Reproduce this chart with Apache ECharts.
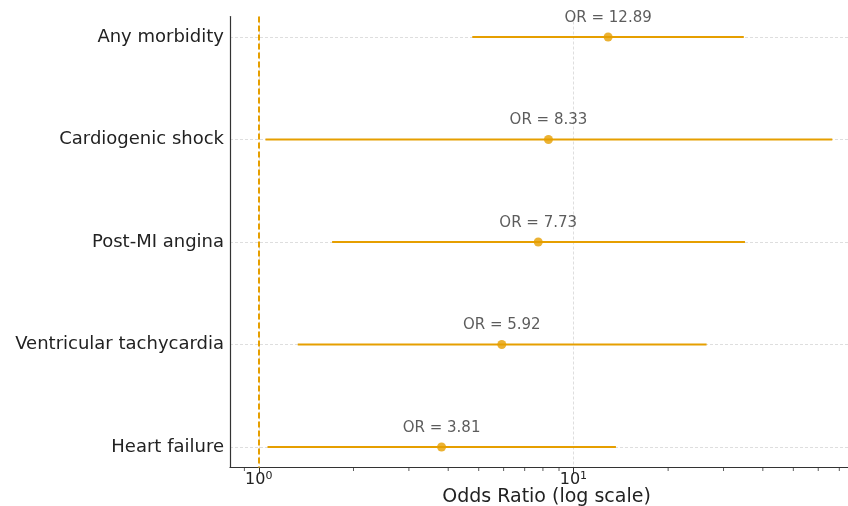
<!DOCTYPE html>
<html>
<head>
<meta charset="utf-8">
<script src="https://cdn.jsdelivr.net/npm/echarts@6/dist/echarts.min.js"></script>
<style>
  html, body { margin: 0; padding: 0; background: #fff; }
  #chart { width: 848px; height: 506px; }
</style>
</head>
<body>
<div id="chart"></div>
<script>
  // outcomes, top to bottom
  var categories = ['Any morbidity', 'Cardiogenic shock', 'Post-MI angina', 'Ventricular tachycardia', 'Heart failure'];
  var oddsRatios = [12.89, 8.33, 7.73, 5.92, 3.81];
  var ciLower = [4.77, 1.05, 1.71, 1.33, 1.066];
  var ciUpper = [34.8, 66.5, 35.1, 26.5, 13.65];
  // minor tick positions of the log axis
  var minorTicks = [0.9, 2, 3, 4, 5, 6, 7, 8, 9, 20, 30, 40, 50, 60, 70];

  var orange = '#E69F00';
  var font = 'DejaVu Sans';

  var chart = echarts.init(document.getElementById('chart'));

  var ciData = categories.map(function (c, i) { return [ciLower[i], ciUpper[i], i]; });
  var pointData = categories.map(function (c, i) { return [oddsRatios[i], i]; });

  var option = {
    backgroundColor: '#fff',
    animation: false,
    grid: { left: 230, right: 0, top: 16.5, bottom: 38.5, outerBoundsMode: 'none', containLabel: false },
    xAxis: {
      type: 'log',
      logBase: 10,
      min: 0.81,
      max: 74.6,
      name: 'Odds Ratio (log scale)',
      nameLocation: 'middle',
      nameGap: 20,
      nameMoveOverlap: false,
      nameTextStyle: { fontFamily: font, fontSize: 19, color: '#222', padding: [0, 0, 0, 15] },
      axisLine: { show: true, onZero: false, lineStyle: { color: '#333', width: 1.2 } },
      axisTick: { show: true, inside: false, length: 6, lineStyle: { color: '#333' } },
      splitLine: {
        show: true, showMinLine: false, showMaxLine: false,
        lineStyle: { color: '#d6d6d6', type: [3, 2], width: 0.8 }
      },
      axisLabel: {
        showMinLabel: false, showMaxLabel: false,
        margin: 3,
        formatter: function (v) {
          var e = Math.log10(v);
          if (Math.abs(e - Math.round(e)) < 1e-6) return '{b|10}{s|' + Math.round(e) + '}';
          return '';
        },
        rich: {
          b: { fontFamily: font, fontSize: 16, color: '#222', lineHeight: 18 },
          s: { fontFamily: font, fontSize: 11, color: '#222', verticalAlign: 'top', lineHeight: 10 }
        }
      }
    },
    yAxis: {
      type: 'value',
      min: -0.2,
      max: 4.2,
      inverse: true,
      axisLine: { show: true, onZero: false, lineStyle: { color: '#333', width: 1.2 } },
      axisTick: { show: false },
      splitLine: {
        show: true, showMinLine: false, showMaxLine: false,
        lineStyle: { color: '#d6d6d6', type: [3, 2], width: 0.8 }
      },
      axisLabel: {
        showMinLabel: false, showMaxLabel: false,
        margin: 6,
        fontFamily: font, fontSize: 18, color: '#222',
        formatter: function (v) {
          var r = Math.round(v);
          return Math.abs(v - r) < 1e-6 && categories[r] ? categories[r] : '';
        }
      }
    },
    series: [
      {
        // confidence intervals
        type: 'custom',
        data: ciData,
        encode: { x: [0, 1], y: 2 },
        renderItem: function (params, api) {
          var p1 = api.coord([api.value(0), api.value(2)]);
          var p2 = api.coord([api.value(1), api.value(2)]);
          return {
            type: 'line',
            shape: { x1: p1[0], y1: p1[1], x2: p2[0], y2: p2[1] },
            style: { stroke: orange, lineWidth: 2 }
          };
        },
        z: 3
      },
      {
        type: 'scatter',
        data: pointData,
        symbol: 'circle',
        symbolSize: 9,
        itemStyle: { color: orange },
        label: {
          show: true,
          position: 'top',
          distance: 7,
          fontFamily: font, fontSize: 15, color: '#333',
          formatter: function (p) { return 'OR = ' + p.value[0].toFixed(2); }
        },
        markLine: {
          silent: true,
          symbol: 'none',
          label: { show: false },
          lineStyle: { color: orange, type: [6, 3], width: 2 },
          data: [{ xAxis: 1 }]
        },
        z: 4
      },
      {
        // minor ticks of the log axis
        type: 'custom',
        data: minorTicks.map(function (v) { return [v]; }),
        encode: { x: 0 },
        clip: false,
        silent: true,
        renderItem: function (params, api) {
          var p = api.coord([api.value(0), 4.2]);
          return {
            type: 'line',
            shape: { x1: p[0], y1: p[1], x2: p[0], y2: p[1] + 3.5 },
            style: { stroke: '#333', lineWidth: 0.8 }
          };
        }
      }
    ]
  };

  chart.setOption(option);
</script>
</body>
</html>
